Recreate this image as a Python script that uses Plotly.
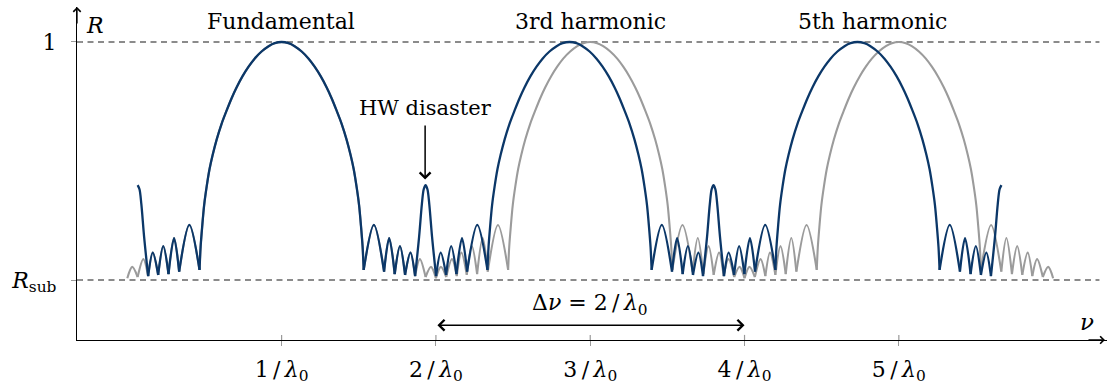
import plotly.graph_objects as go

# ---- data (nu in units of 1/lambda0, R with R_sub = 0.2) ----
R_SUB = 0.2
R_ONE = 1.0

x_tick_vals = [1, 2, 3, 4, 5]
x_tick_text = ["1\u2009/\u2009<i>λ</i><sub>0</sub>", "2\u2009/\u2009<i>λ</i><sub>0</sub>",
               "3\u2009/\u2009<i>λ</i><sub>0</sub>", "4\u2009/\u2009<i>λ</i><sub>0</sub>",
               "5\u2009/\u2009<i>λ</i><sub>0</sub>"]
y_tick_vals = [R_SUB, R_ONE]
y_tick_text = ["<i>R</i><sub>sub</sub>", "1"]

# blue (stack with the half-wave error) reflectance trace
blue_nu = [
    0.067, 0.079, 0.091, 0.109, 0.135,
    0.165, 0.200, 0.233, 0.267, 0.303, 0.336, 0.402, 0.468,
    0.475, 0.485, 0.498, 0.514, 0.533, 0.553, 0.579, 0.611, 0.644, 0.676, 0.708, 0.747,
    0.786, 0.825, 0.870, 0.916, 0.955, 1.000, 1.045, 1.084, 1.130, 1.175, 1.214, 1.253,
    1.292, 1.324, 1.356, 1.389, 1.421, 1.447, 1.467, 1.486, 1.502, 1.515, 1.525, 1.532,
    1.598, 1.664, 1.697, 1.733, 1.767, 1.800, 1.835, 1.865,
    1.891, 1.909, 1.921, 1.933, 1.945, 1.957, 1.975, 2.001,
    2.031, 2.066, 2.099, 2.133, 2.169, 2.202, 2.268, 2.334,
    2.341, 2.351, 2.364, 2.380, 2.399, 2.419, 2.445, 2.477, 2.510, 2.542, 2.574, 2.613,
    2.652, 2.691, 2.736, 2.782, 2.821, 2.866, 2.911, 2.950, 2.996, 3.041, 3.080, 3.119,
    3.158, 3.190, 3.222, 3.255, 3.287, 3.313, 3.333, 3.352, 3.368, 3.381, 3.391, 3.398,
    3.464, 3.530, 3.563, 3.599, 3.633, 3.666, 3.701, 3.731,
    3.757, 3.775, 3.787, 3.799, 3.811, 3.823, 3.841, 3.867,
    3.897, 3.932, 3.965, 3.999, 4.035, 4.068, 4.134, 4.200,
    4.207, 4.217, 4.230, 4.246, 4.265, 4.285, 4.311, 4.343, 4.376, 4.408, 4.440, 4.479,
    4.518, 4.557, 4.602, 4.648, 4.687, 4.732, 4.777, 4.816, 4.862, 4.907, 4.946, 4.985,
    5.024, 5.056, 5.088, 5.121, 5.153, 5.179, 5.199, 5.218, 5.234, 5.247, 5.257, 5.264,
    5.330, 5.396, 5.429, 5.465, 5.499, 5.532, 5.567, 5.597,
    5.623, 5.641, 5.653, 5.665,
]
blue_R = [
    0.519, 0.505, 0.455, 0.345, 0.213,
    0.292, 0.217, 0.314, 0.220, 0.341, 0.228, 0.385, 0.234,
    0.311, 0.378, 0.452, 0.513, 0.573, 0.620, 0.672, 0.725, 0.770, 0.811, 0.847, 0.885,
    0.917, 0.944, 0.968, 0.986, 0.996, 1.000, 0.996, 0.986, 0.968, 0.944, 0.917, 0.885,
    0.847, 0.811, 0.770, 0.725, 0.672, 0.620, 0.573, 0.513, 0.452, 0.378, 0.311, 0.234,
    0.385, 0.228, 0.341, 0.220, 0.314, 0.217, 0.292, 0.213,
    0.345, 0.455, 0.505, 0.519, 0.505, 0.455, 0.345, 0.213,
    0.292, 0.217, 0.314, 0.220, 0.341, 0.228, 0.385, 0.234,
    0.311, 0.378, 0.452, 0.513, 0.573, 0.620, 0.672, 0.725, 0.770, 0.811, 0.847, 0.885,
    0.917, 0.944, 0.968, 0.986, 0.996, 1.000, 0.996, 0.986, 0.968, 0.944, 0.917, 0.885,
    0.847, 0.811, 0.770, 0.725, 0.672, 0.620, 0.573, 0.513, 0.452, 0.378, 0.311, 0.234,
    0.385, 0.228, 0.341, 0.220, 0.314, 0.217, 0.292, 0.213,
    0.345, 0.455, 0.505, 0.519, 0.505, 0.455, 0.345, 0.213,
    0.292, 0.217, 0.314, 0.220, 0.341, 0.228, 0.385, 0.234,
    0.311, 0.378, 0.452, 0.513, 0.573, 0.620, 0.672, 0.725, 0.770, 0.811, 0.847, 0.885,
    0.917, 0.944, 0.968, 0.986, 0.996, 1.000, 0.996, 0.986, 0.968, 0.944, 0.917, 0.885,
    0.847, 0.811, 0.770, 0.725, 0.672, 0.620, 0.573, 0.513, 0.452, 0.378, 0.311, 0.234,
    0.385, 0.228, 0.341, 0.220, 0.314, 0.217, 0.292, 0.213,
    0.345, 0.455, 0.505, 0.519,
]

# grey (ideal quarter-wave stack) reflectance trace
grey_nu = [
    0.000, 0.032, 0.067, 0.104, 0.135, 0.165, 0.200, 0.233, 0.267, 0.303, 0.336, 0.402, 0.468,
    0.475, 0.485, 0.498, 0.514, 0.533, 0.553, 0.579, 0.611, 0.644, 0.676, 0.708, 0.747,
    0.786, 0.825, 0.870, 0.916, 0.955, 1.000, 1.045, 1.084, 1.130, 1.175, 1.214, 1.253,
    1.292, 1.324, 1.356, 1.389, 1.421, 1.447, 1.467, 1.486, 1.502, 1.515, 1.525, 1.532,
    1.598, 1.664, 1.697, 1.733, 1.767, 1.800, 1.835, 1.865, 1.896, 1.933, 1.968, 2.000,
    2.032, 2.067, 2.104, 2.135, 2.165, 2.200, 2.233, 2.267, 2.303, 2.336, 2.402, 2.468,
    2.475, 2.485, 2.498, 2.514, 2.533, 2.553, 2.579, 2.611, 2.644, 2.676, 2.708, 2.747,
    2.786, 2.825, 2.870, 2.916, 2.955, 3.000, 3.045, 3.084, 3.130, 3.175, 3.214, 3.253,
    3.292, 3.324, 3.356, 3.389, 3.421, 3.447, 3.467, 3.486, 3.502, 3.515, 3.525, 3.532,
    3.598, 3.664, 3.697, 3.733, 3.767, 3.800, 3.835, 3.865, 3.896, 3.933, 3.968, 4.000,
    4.032, 4.067, 4.104, 4.135, 4.165, 4.200, 4.233, 4.267, 4.303, 4.336, 4.402, 4.468,
    4.475, 4.485, 4.498, 4.514, 4.533, 4.553, 4.579, 4.611, 4.644, 4.676, 4.708, 4.747,
    4.786, 4.825, 4.870, 4.916, 4.955, 5.000, 5.045, 5.084, 5.130, 5.175, 5.214, 5.253,
    5.292, 5.324, 5.356, 5.389, 5.421, 5.447, 5.467, 5.486, 5.502, 5.515, 5.525, 5.532,
    5.598, 5.664, 5.697, 5.733, 5.767, 5.800, 5.835, 5.865, 5.896, 5.933, 5.968, 6.000,
]
grey_R = [
    0.206, 0.244, 0.210, 0.270, 0.213, 0.292, 0.217, 0.314, 0.220, 0.341, 0.228, 0.385, 0.234,
    0.311, 0.378, 0.452, 0.513, 0.573, 0.620, 0.672, 0.725, 0.770, 0.811, 0.847, 0.885,
    0.917, 0.944, 0.968, 0.986, 0.996, 1.000, 0.996, 0.986, 0.968, 0.944, 0.917, 0.885,
    0.847, 0.811, 0.770, 0.725, 0.672, 0.620, 0.573, 0.513, 0.452, 0.378, 0.311, 0.234,
    0.385, 0.228, 0.341, 0.220, 0.314, 0.217, 0.292, 0.213, 0.270, 0.210, 0.244, 0.206,
    0.244, 0.210, 0.270, 0.213, 0.292, 0.217, 0.314, 0.220, 0.341, 0.228, 0.385, 0.234,
    0.311, 0.378, 0.452, 0.513, 0.573, 0.620, 0.672, 0.725, 0.770, 0.811, 0.847, 0.885,
    0.917, 0.944, 0.968, 0.986, 0.996, 1.000, 0.996, 0.986, 0.968, 0.944, 0.917, 0.885,
    0.847, 0.811, 0.770, 0.725, 0.672, 0.620, 0.573, 0.513, 0.452, 0.378, 0.311, 0.234,
    0.385, 0.228, 0.341, 0.220, 0.314, 0.217, 0.292, 0.213, 0.270, 0.210, 0.244, 0.206,
    0.244, 0.210, 0.270, 0.213, 0.292, 0.217, 0.314, 0.220, 0.341, 0.228, 0.385, 0.234,
    0.311, 0.378, 0.452, 0.513, 0.573, 0.620, 0.672, 0.725, 0.770, 0.811, 0.847, 0.885,
    0.917, 0.944, 0.968, 0.986, 0.996, 1.000, 0.996, 0.986, 0.968, 0.944, 0.917, 0.885,
    0.847, 0.811, 0.770, 0.725, 0.672, 0.620, 0.573, 0.513, 0.452, 0.378, 0.311, 0.234,
    0.385, 0.228, 0.341, 0.220, 0.314, 0.217, 0.292, 0.213, 0.270, 0.210, 0.244, 0.206,
]

# annotation anchor values
labels = ["Fundamental", "3rd harmonic", "5th harmonic"]
label_nu = [0.995, 3.0, 4.83]
label_R = 1.070
hw_nu = 1.930
hw_text_R = 0.778
hw_head_R = 0.538
span_nu = [2.0, 4.0]
span_R = 0.048
span_text_R = 0.116

# ---- layout constants ----
X_RANGE = [-0.326, 6.349]
Y_RANGE = [-0.00168, 1.1176]
FONT = "DejaVu Serif"
BLUE = "#0b3768"
GREY = "#9b9b9b"
DASH_C = "#666666"
TICK_C = "#9a9a9a"


def split_at_dips(xs, ys):
    """Insert a gap at every local minimum so each lobe is its own smooth arch."""
    X, Y = [xs[0]], [ys[0]]
    for i in range(1, len(xs)):
        X.append(xs[i])
        Y.append(ys[i])
        if i < len(xs) - 1 and ys[i] < ys[i - 1] and ys[i] < ys[i + 1]:
            X += [None, xs[i]]
            Y += [None, ys[i]]
    return X, Y


fig = go.Figure()
gx, gy = split_at_dips(grey_nu, grey_R)
bx, by = split_at_dips(blue_nu, blue_R)
fig.add_trace(go.Scatter(x=gx, y=gy, mode="lines", connectgaps=False,
                         line=dict(color=GREY, width=2.1, shape="spline", smoothing=0.9),
                         hoverinfo="skip", showlegend=False))
fig.add_trace(go.Scatter(x=bx, y=by, mode="lines", connectgaps=False,
                         line=dict(color=BLUE, width=2.3, shape="spline", smoothing=0.9),
                         hoverinfo="skip", showlegend=False))

shapes = []
for yv in y_tick_vals:
    shapes.append(dict(type="line", xref="x", yref="y", x0=X_RANGE[0], x1=6.30, y0=yv, y1=yv,
                       line=dict(color=DASH_C, width=1.3, dash="6px,4.5px"), layer="below"))
    shapes.append(dict(type="line", xref="x", yref="y", x0=X_RANGE[0], x1=X_RANGE[0] + 0.033,
                       y0=yv, y1=yv, line=dict(color=TICK_C, width=1.2)))
for xv in x_tick_vals:
    shapes.append(dict(type="line", xref="x", yref="y", x0=xv, x1=xv, y0=Y_RANGE[0], y1=0.0155,
                       line=dict(color=TICK_C, width=1.2)))

ann = []
for t, xv in zip(labels, label_nu):
    ann.append(dict(x=xv, y=label_R, xref="x", yref="y", text=t, showarrow=False,
                    font=dict(family=FONT, size=22, color="black")))
# HW disaster: text at the tail, arrow down to the spurious peak
ann.append(dict(x=hw_nu, y=hw_head_R, ax=hw_nu, ay=hw_text_R, xref="x", yref="y",
                axref="x", ayref="y", text="HW disaster", showarrow=True, arrowhead=4,
                arrowsize=1.4, arrowwidth=1.5, arrowcolor="black", standoff=0, borderpad=5,
                font=dict(family=FONT, size=21, color="black")))
ann.append(dict(x=span_nu[1], y=span_R, ax=span_nu[0], ay=span_R, xref="x", yref="y",
                axref="x", ayref="y", text="", showarrow=True, arrowhead=4, startarrowhead=4,
                arrowside="end+start", arrowsize=1.4, startarrowsize=1.4,
                arrowwidth=1.5, arrowcolor="black", standoff=0, startstandoff=0))
ann.append(dict(x=(span_nu[0] + span_nu[1]) / 2, y=span_text_R, xref="x", yref="y",
                text="Δ<i>ν</i> = 2\u2009/\u2009<i>λ</i><sub>0</sub>", showarrow=False,
                font=dict(family=FONT, size=22, color="black")))
# axis labels
ann.append(dict(x=-0.21, y=1.054, xref="x", yref="y", text="<i>R</i>", showarrow=False,
                font=dict(family=FONT, size=22, color="black")))
ann.append(dict(x=6.22, y=0.058, xref="x", yref="y", text="<i>ν</i>", showarrow=False,
                font=dict(family=FONT, size=23, color="black")))
# axis arrowheads
ann.append(dict(x=0, y=1, xref="paper", yref="paper", ax=0, ay=18, text="", showarrow=True,
                arrowhead=4, arrowsize=1.1, arrowwidth=1.3, arrowcolor="black", standoff=0))
ann.append(dict(x=6.336, y=0, xref="x", yref="paper", ax=-18, ay=0, text="", showarrow=True,
                arrowhead=4, arrowsize=1.1, arrowwidth=1.3, arrowcolor="black", standoff=0))

fig.update_layout(
    width=1107, height=388,
    margin=dict(l=77, r=0, t=7, b=48, autoexpand=False),
    paper_bgcolor="white", plot_bgcolor="white",
    shapes=shapes, annotations=ann,
    xaxis=dict(range=X_RANGE, showgrid=False, zeroline=False, showline=True, automargin=False,
               linecolor="black", linewidth=1.3, ticks="outside", ticklen=5,
               tickwidth=1.2, tickcolor=TICK_C, tickvals=x_tick_vals, ticktext=x_tick_text,
               tickfont=dict(family=FONT, size=22, color="black"), ticklabelstandoff=4),
    yaxis=dict(range=Y_RANGE, showgrid=False, zeroline=False, showline=True, automargin=False,
               linecolor="black", linewidth=1.3, ticks="outside", ticklen=5,
               tickwidth=1.2, tickcolor=TICK_C, tickvals=y_tick_vals, ticktext=y_tick_text,
               tickfont=dict(family=FONT, size=22, color="black"), ticklabelstandoff=10),
)

fig.write_html("out.html", config={"displayModeBar": False},
               post_script="document.body.style.margin='0';document.body.style.padding='0';")
